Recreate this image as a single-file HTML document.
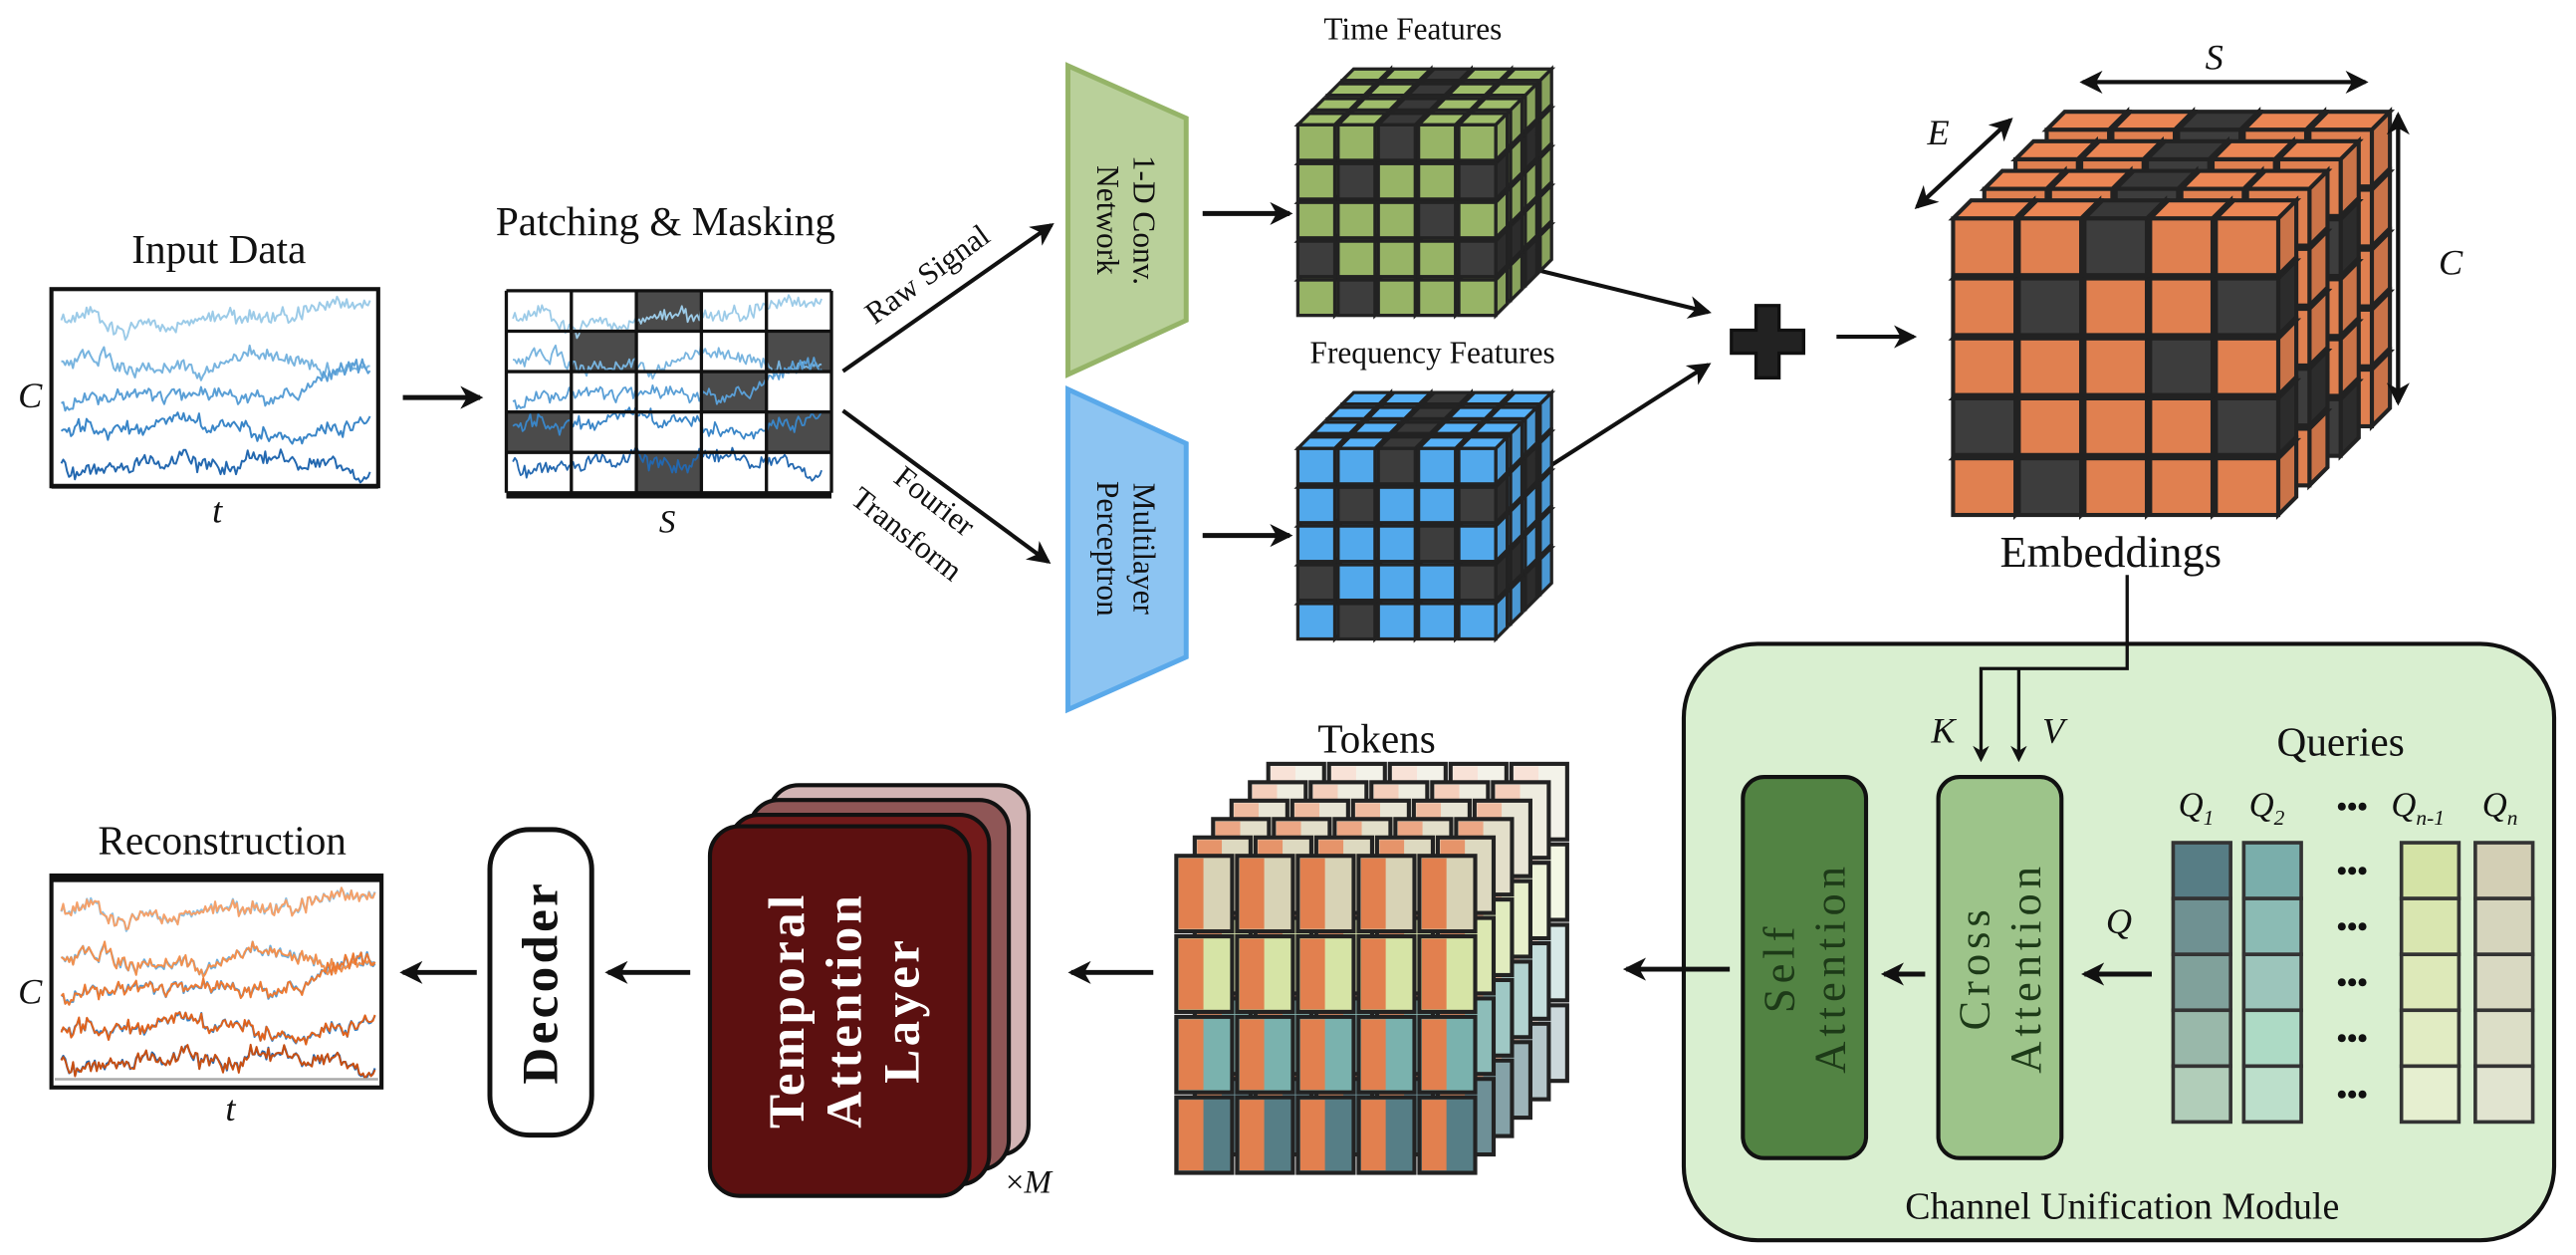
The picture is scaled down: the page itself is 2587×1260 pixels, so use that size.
<!DOCTYPE html>
<html><head><meta charset="utf-8">
<style>
html,body{margin:0;padding:0;background:#fff;}
svg{display:block;}
text{font-family:"Liberation Serif",serif;fill:#111;}
</style></head>
<body>
<svg id="s" width="2587" height="1260" viewBox="0 0 1568 764" xmlns="http://www.w3.org/2000/svg">
<defs>
<marker id="ah" markerWidth="10" markerHeight="10" refX="8" refY="5" orient="auto" markerUnits="userSpaceOnUse">
<path d="M0,0 L10,5 L0,10 L3,5 Z" fill="#111"/></marker>
<marker id="ah2" markerWidth="14" markerHeight="14" refX="12" refY="7" orient="auto" markerUnits="userSpaceOnUse">
<path d="M0,0 L14,7 L0,14 L4,7 Z" fill="#111"/></marker>
</defs>

<text x="133" y="160" font-size="25" text-anchor="middle">Input Data</text>
<text x="405" y="143" font-size="25" text-anchor="middle">Patching &amp; Masking</text>
<text x="18" y="248" font-size="22" font-style="italic" text-anchor="middle">C</text>
<text x="132" y="318" font-size="22" font-style="italic" text-anchor="middle">t</text>
<text x="406" y="324" font-size="20" font-style="italic" text-anchor="middle">S</text>
<text x="860" y="24" font-size="19" text-anchor="middle">Time Features</text>
<text x="872" y="221" font-size="19" text-anchor="middle">Frequency Features</text>
<text x="1285" y="345" font-size="27" text-anchor="middle">Embeddings</text>
<text x="1348" y="42" font-size="22" font-style="italic" text-anchor="middle">S</text>
<text x="1180" y="88" font-size="22" font-style="italic" text-anchor="middle">E</text>
<text x="1492" y="167" font-size="22" font-style="italic" text-anchor="middle">C</text>

<line x1="245" y1="242" x2="292" y2="242" stroke="#111" stroke-width="3" marker-end="url(#ah2)"/>
<line x1="513" y1="226" x2="640" y2="137" stroke="#111" stroke-width="2.5" marker-end="url(#ah2)"/>
<line x1="513" y1="250" x2="638" y2="342" stroke="#111" stroke-width="2.5" marker-end="url(#ah2)"/>
<text transform="translate(568,172) rotate(-36)" font-size="19" text-anchor="middle">Raw Signal</text>
<text transform="translate(565,310) rotate(38)" font-size="19" text-anchor="middle">Fourier</text>
<text transform="translate(548,330) rotate(38)" font-size="19" text-anchor="middle">Transform</text>

<polygon points="650,40 722,72 722,195 650,228" fill="#b9d09a" stroke="#95b468" stroke-width="3"/>
<text transform="translate(686,134) rotate(90)" font-size="19" text-anchor="middle"><tspan x="0" dy="-4">1-D Conv.</tspan><tspan x="0" dy="22">Network</tspan></text>
<polygon points="650,237 722,270 722,400 650,432" fill="#8cc4f2" stroke="#5aa9ea" stroke-width="3"/>
<text transform="translate(686,334) rotate(90)" font-size="19" text-anchor="middle"><tspan x="0" dy="-4">Multilayer</tspan><tspan x="0" dy="22">Perceptron</tspan></text>

<line x1="732" y1="130" x2="785" y2="130" stroke="#111" stroke-width="3" marker-end="url(#ah2)"/>
<line x1="732" y1="326" x2="785" y2="326" stroke="#111" stroke-width="3" marker-end="url(#ah2)"/>

<line x1="918" y1="160" x2="1040" y2="190" stroke="#111" stroke-width="2.5" marker-end="url(#ah2)"/>
<line x1="918" y1="300" x2="1040" y2="222" stroke="#111" stroke-width="2.5" marker-end="url(#ah2)"/>
<path d="M1069,186 h14 v15 h15 v14 h-15 v15 h-14 v-15 h-15 v-14 h15 z" fill="#222" stroke="#111" stroke-width="2"/>
<line x1="1118" y1="205" x2="1165" y2="205" stroke="#111" stroke-width="2.5" marker-end="url(#ah2)"/>

<g id="cubes"></g>

<line x1="1268" y1="50" x2="1440" y2="50" stroke="#111" stroke-width="2.5" marker-end="url(#ah2)"/>
<line x1="1440" y1="50" x2="1268" y2="50" stroke="#111" stroke-width="2.5" marker-end="url(#ah2)"/>
<line x1="1167" y1="126" x2="1224" y2="73" stroke="#111" stroke-width="2.5" marker-end="url(#ah2)"/>
<line x1="1224" y1="73" x2="1167" y2="126" stroke="#111" stroke-width="2.5" marker-end="url(#ah2)"/>
<line x1="1460" y1="70" x2="1460" y2="245" stroke="#111" stroke-width="2.5" marker-end="url(#ah2)"/>
<line x1="1460" y1="245" x2="1460" y2="70" stroke="#111" stroke-width="2.5" marker-end="url(#ah2)"/>

<rect x="1025" y="392" width="530" height="363" rx="45" fill="#d9efd0" stroke="#111" stroke-width="2.5"/>
<text x="1292" y="742" font-size="23" text-anchor="middle">Channel Unification Module</text>
<polyline points="1295,350 1295,407 1206,407 1206,462" fill="none" stroke="#111" stroke-width="2" marker-end="url(#ah)"/>
<polyline points="1229,407 1229,462" fill="none" stroke="#111" stroke-width="2" marker-end="url(#ah)"/>
<text x="1183" y="452" font-size="22" font-style="italic" text-anchor="middle">K</text>
<text x="1250" y="452" font-size="22" font-style="italic" text-anchor="middle">V</text>
<text x="1425" y="460" font-size="25" text-anchor="middle">Queries</text>
<rect x="1061" y="473" width="75" height="232" rx="13" fill="#528343" stroke="#111" stroke-width="2.5"/>
<text transform="translate(1098,589) rotate(-90)" font-size="27" letter-spacing="3" text-anchor="middle" style="fill:#1d3a18"><tspan x="0" dy="-6">Self</tspan><tspan x="0" dy="31">Attention</tspan></text>
<rect x="1180" y="473" width="75" height="232" rx="13" fill="#9dc48a" stroke="#111" stroke-width="2.5"/>
<text transform="translate(1217,589) rotate(-90)" font-size="27" letter-spacing="3" text-anchor="middle" style="fill:#1d3a18"><tspan x="0" dy="-6">Cross</tspan><tspan x="0" dy="31">Attention</tspan></text>
<line x1="1310" y1="593" x2="1269" y2="593" stroke="#111" stroke-width="3" marker-end="url(#ah2)"/>
<text x="1290" y="568" font-size="22" font-style="italic" text-anchor="middle">Q</text>
<line x1="1172" y1="593" x2="1147" y2="593" stroke="#111" stroke-width="3" marker-end="url(#ah2)"/>
<line x1="1053" y1="590" x2="990" y2="590" stroke="#111" stroke-width="3" marker-end="url(#ah2)"/>
<g id="queries"></g>

<text x="838" y="458" font-size="25" text-anchor="middle">Tokens</text>
<g id="tokens"></g>
<line x1="702" y1="592" x2="652" y2="592" stroke="#111" stroke-width="3" marker-end="url(#ah2)"/>

<rect x="468" y="478" width="158" height="225" rx="18" fill="#d2b4b4" stroke="#111" stroke-width="2.5"/>
<rect x="456" y="487" width="158" height="225" rx="18" fill="#8f5656" stroke="#111" stroke-width="2.5"/>
<rect x="444" y="496" width="158" height="225" rx="18" fill="#721a1a" stroke="#111" stroke-width="2.5"/>
<rect x="432" y="503" width="158" height="225" rx="18" fill="#5c1010" stroke="#111" stroke-width="2.5"/>
<text transform="translate(511,615) rotate(-90)" font-size="31" font-weight="bold" letter-spacing="2" text-anchor="middle" style="fill:#fff"><tspan x="0" dy="-22">Temporal</tspan><tspan x="0" dy="35">Attention</tspan><tspan x="0" dy="35">Layer</tspan></text>
<text x="626" y="726" font-size="20" text-anchor="middle">×<tspan font-style="italic">M</tspan></text>
<line x1="420" y1="592" x2="370" y2="592" stroke="#111" stroke-width="3" marker-end="url(#ah2)"/>
<rect x="298" y="505" width="62" height="186" rx="24" fill="#fff" stroke="#111" stroke-width="3"/>
<text transform="translate(339,598) rotate(-90)" font-size="31" font-weight="bold" letter-spacing="2" text-anchor="middle">Decoder</text>
<line x1="290" y1="592" x2="245" y2="592" stroke="#111" stroke-width="3" marker-end="url(#ah2)"/>
<text x="135" y="520" font-size="25" text-anchor="middle">Reconstruction</text>
<text x="18" y="611" font-size="22" font-style="italic" text-anchor="middle">C</text>
<text x="140" y="682" font-size="22" font-style="italic" text-anchor="middle">t</text>
<g id="series"></g>
</svg>
<script>
var NS="http://www.w3.org/2000/svg";
function el(tag,attrs,parent){var e=document.createElementNS(NS,tag);for(var k in attrs)e.setAttribute(k,attrs[k]);parent.appendChild(e);return e;}
var seed=11;function rnd(){seed=(seed*16807)%2147483647;return (seed-1)/2147483646;}
var ser=document.getElementById('series');
function walk(n,amp,trend){var a=[],v=0,slow=0;for(var i=0;i<n;i++){slow+=(rnd()-0.5)*amp*0.5;slow*=0.95;v=slow+(rnd()-0.5)*amp*0.6;a.push(v-trend*i/n);}return a;}
function drawLines(x0,x1,ys,cols,w,arrs){for(var r=0;r<ys.length;r++){var d="";var a=arrs[r];for(var i=0;i<a.length;i++){var x=x0+(x1-x0)*i/(a.length-1);d+=(i?"L":"M")+x.toFixed(1)+","+(ys[r]+a[i]).toFixed(1);}el('path',{d:d,fill:'none',stroke:cols[r],'stroke-width':w,'stroke-linejoin':'round'},ser);}}
var N=160, series=[];
var trends=[14,4,12,3,6];
for(var r=0;r<5;r++)series.push(walk(N,11,trends[r]));
var blues=["#9ccbe8","#78b4df","#5a9fd6","#3a86c8","#2368b0"];
el('rect',{x:31,y:176,width:199,height:120,fill:'#fff',stroke:'#111','stroke-width':2.5},ser);
el('line',{x1:31,y1:296,x2:230,y2:296,stroke:'#111','stroke-width':3},ser);
drawLines(37,225,[198,220,246,265,285],blues,1.2,series);
var gx=308,gy=177,cw=39.6,ch=24.6;
var dark=[[0,2],[1,1],[1,4],[2,3],[3,0],[3,4],[4,2]];
el('rect',{x:gx,y:gy,width:cw*5,height:ch*5,fill:'#fff'},ser);
dark.forEach(function(p){el('rect',{x:gx+p[1]*cw,y:gy+p[0]*ch,width:cw,height:ch,fill:'#4b4b4b'},ser);});
drawLines(312,500,[197,219,245,262,284],blues,1.1,series);
for(var i=0;i<=5;i++){el('line',{x1:gx+i*cw,y1:gy,x2:gx+i*cw,y2:gy+ch*5,stroke:'#111','stroke-width':2},ser);el('line',{x1:gx,y1:gy+i*ch,x2:gx+cw*5,y2:gy+i*ch,stroke:'#111','stroke-width':2},ser);}
el('line',{x1:gx,y1:gy+ch*5+2,x2:gx+cw*5,y2:gy+ch*5+2,stroke:'#111','stroke-width':3},ser);
el('rect',{x:31,y:533,width:201,height:129,fill:'#fff',stroke:'#111','stroke-width':2.5},ser);
el('line',{x1:31,y1:535,x2:232,y2:535,stroke:'#111','stroke-width':4},ser);
var rb=["#8cc2e6","#6aaede","#4d98d4","#3680c4","#2566ae"];
var ro=["#f5a16a","#f2904e","#ec7a33","#e0621c","#c84f12"];
var ys=[558,583,607,630,648];
drawLines(37,228,ys,rb,1.3,series);
var s2=series.map(function(a){return a.map(function(v){return v+(rnd()-0.5)*2.5;});});
drawLines(37,228,ys,ro,1.2,s2);
el('line',{x1:33,y1:657,x2:230,y2:657,stroke:'#aaa','stroke-width':1.5},ser);

var cg=document.getElementById('cubes');
function shade(c,f){var n=parseInt(c.slice(1),16);var r=(n>>16)&255,g=(n>>8)&255,b=n&255;function cl(v){return Math.max(0,Math.min(255,Math.round(v*f)));}return "rgb("+cl(r)+","+cl(g)+","+cl(b)+")";}
var pat=[[0,0,1,0,0],[0,1,0,0,1],[0,0,0,1,0],[1,0,0,0,1],[0,1,0,0,0]];
function cube(x0,y0,cw,ch,layers,ldx,ldy,cd,col,sw){
  for(var l=layers-1;l>=0;l--){
    for(var r=4;r>=0;r--){
      for(var c=0;c<5;c++){
        var x=x0+c*cw+l*ldx, y=y0+r*ch+l*ldy;
        var d = (l==0)?pat[r][c]:(r==0?(c==2):pat[r][(c+l)%5]);
        var w=cw-2, h=ch-2, dx=cd, dy=-cd;
        el('polygon',{points:[x,y, x+dx,y+dy, x+w+dx,y+dy, x+w,y].join(','),fill:d?"#383838":shade(col,1.05),stroke:'#222','stroke-width':sw},cg);
        el('polygon',{points:[x+w,y, x+w+dx,y+dy, x+w+dx,y+h+dy, x+w,y+h].join(','),fill:d?"#2c2c2c":shade(col,0.9),stroke:'#222','stroke-width':sw},cg);
        el('rect',{x:x,y:y,width:w,height:h,fill:d?"#3d3d3d":col,stroke:'#222','stroke-width':sw},cg);
      }
    }
  }
}
cube(790,76,24.5,23.6,4,9,-9,7,"#97b466",2);
cube(790,273,24.5,23.6,4,9,-9,7,"#52a9ec",2);
cube(1189,133,40,36.5,4,19,-18,11,"#e08050",2.5);

var tg=document.getElementById('tokens');
var rowc=["#d8d3b6","#d6e4a6","#7ab2ae","#567e86"];
function mix(a,f){var n=parseInt(a.slice(1),16);var R=(n>>16)&255,G=(n>>8)&255,B=n&255;return "rgb("+Math.round(R+(255-R)*f)+","+Math.round(G+(255-G)*f)+","+Math.round(B+(255-B)*f)+")";}
for(var l=5;l>=0;l--){
  var fade=l*0.14;
  for(var r=3;r>=0;r--){
    for(var c=0;c<5;c++){
      var x=716+c*37+l*11.2, y=521+r*49-l*11.2;
      var w=34,h=46;
      el('rect',{x:x,y:y,width:w,height:h,fill:mix(rowc[r],fade),stroke:'#222','stroke-width':2.5},tg);
      el('rect',{x:x+1.5,y:y+1.5,width:w/2-2,height:h-3,fill:mix("#e2804f",fade*1.1)},tg);
    }
  }
}
var qg=document.getElementById('queries');
var qx=[1323,1366,1462,1507], qw=35;
var qc=[["#577d85","#6f9192","#80a19b","#99b8aa","#b1cdb9"],["#7aaeab","#8bbbb4","#9cc5bb","#addac5","#bcdfcb"],["#d4e3a6","#d9e6b0","#dde9b9","#e1ecc3","#e6efd0"],["#d3cfb5","#d6d5bd","#d9d9c2","#dcdec7","#e1e4d0"]];
for(var k=0;k<4;k++){for(var r=0;r<5;r++){el('rect',{x:qx[k],y:513+r*34,width:qw,height:34,fill:qc[k][r],stroke:'#333','stroke-width':2.2},qg);}}
for(var r=0;r<5;r++){var t=el('text',{x:1432,y:536+r*34,'font-size':18,'text-anchor':'middle','font-weight':'bold'},qg);t.textContent="•••";}
var t0=el('text',{x:1432,y:497,'font-size':18,'text-anchor':'middle','font-weight':'bold'},qg);t0.textContent="•••";
var labs=[["Q","1",1337],["Q","2",1380],["Q","n-1",1472],["Q","n",1522]];
labs.forEach(function(L){var t=el('text',{x:L[2],y:497,'font-size':21,'font-style':'italic','text-anchor':'middle'},qg);t.textContent=L[0];var s=el('tspan',{'font-size':13,dy:5},t);s.textContent=L[1];});
</script>
</body></html>
